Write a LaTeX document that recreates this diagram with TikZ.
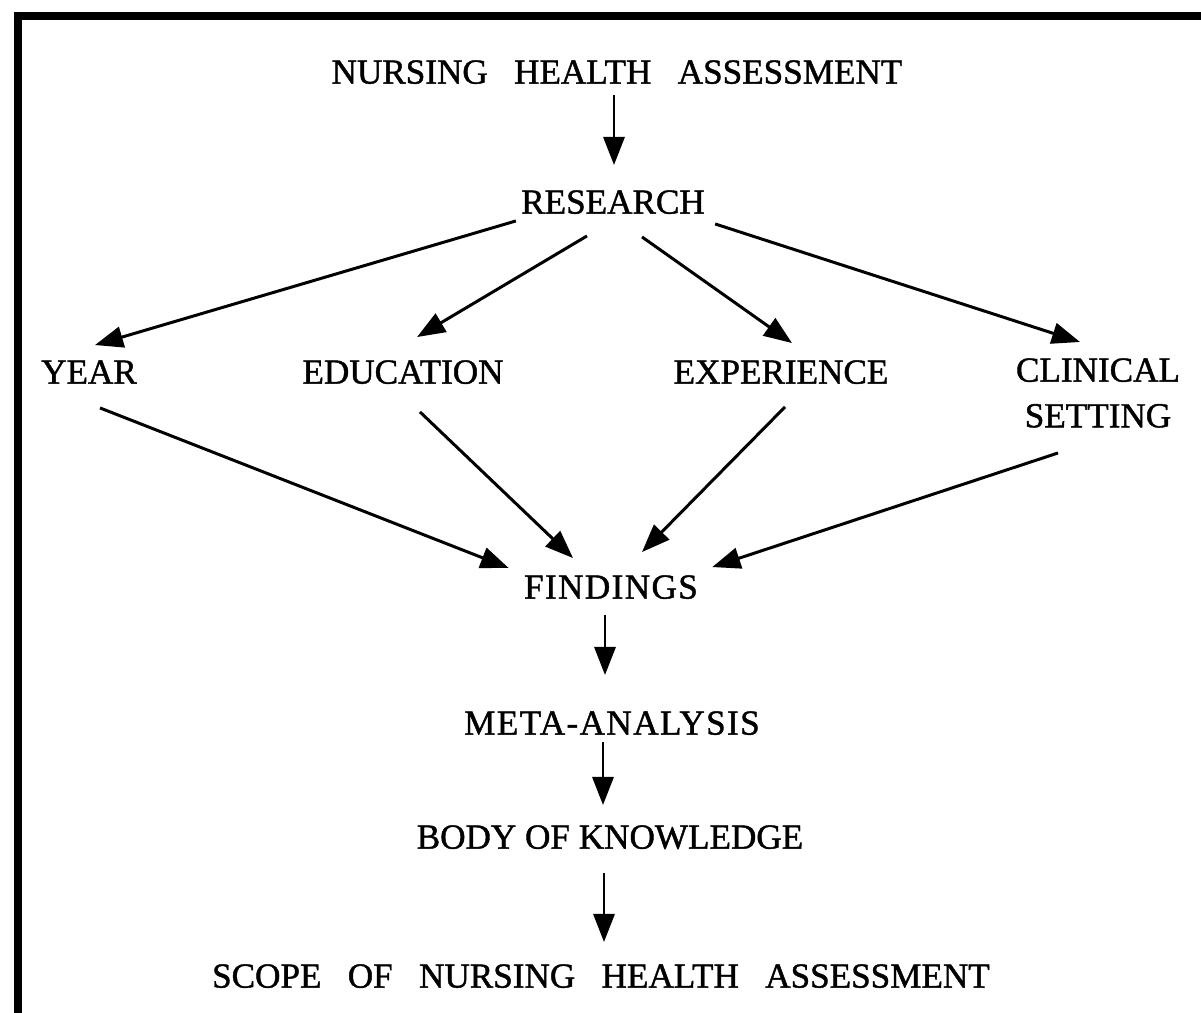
\documentclass[tikz,border=0pt]{standalone}
\usepackage{fontspec}
\setmainfont{Liberation Serif}[FakeBold=1.2]
\usetikzlibrary{arrows.meta}

% wide word gap used in the long all-caps titles
\newcommand{\wgap}{\hspace{0.75em}}

\begin{document}
\begin{tikzpicture}[
    x=0.02cm, y=-0.02cm,
    every node/.style={font=\fontsize{20}{26}\selectfont, inner sep=0pt},
    term/.style={text height=13.2pt, text depth=0pt},
    spaced/.style={term, font=\fontsize{20}{26}\selectfont\addfontfeature{LetterSpace=4}},
    flow/.style={line width=1.7pt, -{Triangle[length=16pt, width=12pt]}},
]

\useasboundingbox (0,0) rectangle (1201,1013);

% ----------------------------------------------------------------------
% Frame (left and top rules only)
% ----------------------------------------------------------------------
\draw[line width=4.5pt] (18,1013) -- (18,16) -- (1201,16);

% ----------------------------------------------------------------------
% Terms
%   y = 72 : title
%   y = 202: research
%   y = 372: the four study variables
%   y = 587 .. 976: findings chain down to the scope
% ----------------------------------------------------------------------
\node[term] (nha) at (617,72) {NURSING\wgap HEALTH\wgap ASSESSMENT};
\node[term] (research) at (613,202) {RESEARCH};

\node[term] (year) at (89,372) {YEAR};
\node[term] (edu) at (403,372) {EDUCATION};
\node[term] (exp) at (781,372) {EXPERIENCE};
\node[align=center, anchor=north] (clin) at (1098,358) {CLINICAL\\SETTING};

\node[spaced] (find) at (611,587) {FINDINGS};
\node[spaced] (meta) at (612,723) {META-ANALYSIS};
\node[term] (body) at (610,837) {BODY OF KNOWLEDGE};
\node[term] (scope) at (601,976)
    {SCOPE\wgap OF\wgap NURSING\wgap HEALTH\wgap ASSESSMENT};

% ----------------------------------------------------------------------
% Arrows (ends nudged off the text by hand)
% ----------------------------------------------------------------------
\draw[flow] ([shift={(-3,11)}]nha.south) -- ([shift={(1,-25)}]research.north);

% research fans out to the variables
\draw[flow] ([shift={(-5,7)}]research.south west) -- ([shift={(6,-15)}]year.north);
\draw[flow] ([shift={(-26,22)}]research.south) -- ([shift={(14,-23)}]edu.north);
\draw[flow] ([shift={(29,23)}]research.south) -- ([shift={(11,-17)}]exp.north);
\draw[flow] ([shift={(10,10)}]research.south east) -- ([shift={(-18,-16)}]clin.north);

% variables converge on the findings
\draw[flow] ([shift={(11,24)}]year.south) -- ([shift={(-15,-7)}]find.north west);
\draw[flow] ([shift={(17,28)}]edu.south) -- ([shift={(-38,-17)}]find.north);
\draw[flow] ([shift={(4,23)}]exp.south) -- ([shift={(31,-23)}]find.north);
\draw[flow] ([shift={(-40,25)}]clin.south) -- ([shift={(14,-8)}]find.north east);

% findings chain
\draw[flow] ([shift={(-6,16)}]find.south) -- ([shift={(-7,-36)}]meta.north);
\draw[flow] ([shift={(-9,7)}]meta.south) -- ([shift={(-7,-20)}]body.north);
\draw[flow] ([shift={(-6,24)}]body.south) -- ([shift={(3,-22)}]scope.north);

\end{tikzpicture}
\end{document}
